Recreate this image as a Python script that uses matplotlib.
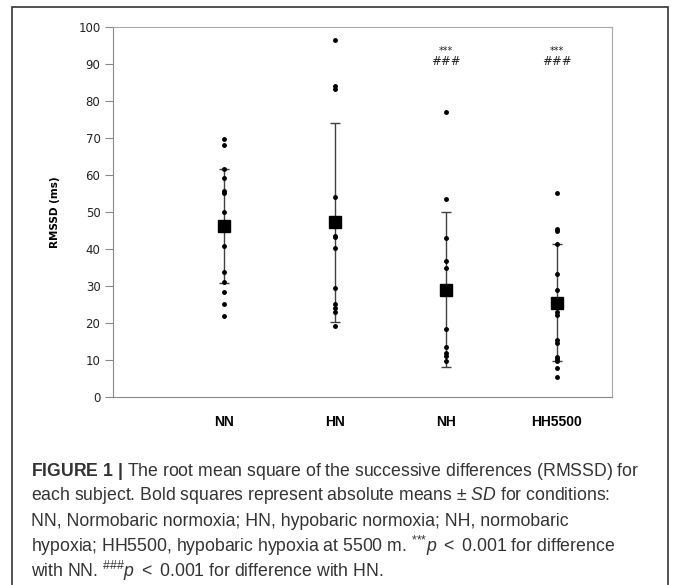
import matplotlib.pyplot as plt
from matplotlib.patches import Rectangle

# valores
conds = ["NN", "HN", "NH", "HH5500"]
nn = [69.8, 68.1, 61.5, 59.3, 55.6, 55.2, 49.9, 40.7, 33.9, 31.0, 28.5, 25.1, 21.8]
hn = [96.6, 84.0, 83.2, 54.1, 43.6, 43.2, 40.4, 29.4, 25.2, 24.1, 22.9, 19.1]
nh = [76.9, 53.6, 43.0, 36.7, 35.0, 18.5, 13.6, 11.8, 11.2, 9.7]
hh = [55.2, 45.4, 44.9, 41.4, 33.3, 29.0, 22.9, 22.2, 15.4, 14.7, 10.8, 10.2, 9.6, 7.9, 5.3]
means = [46.1, 47.2, 29.0, 25.5]
sds = [15.4, 26.9, 21.0, 15.8]
signif = ["", "", "***", "***"]
signif_hn = ["", "", "###", "###"]

plt.rcParams['mathtext.fontset'] = 'custom'
plt.rcParams['mathtext.rm'] = 'Liberation Sans'
plt.rcParams['mathtext.it'] = 'Liberation Sans:italic'
plt.rcParams['mathtext.bf'] = 'Liberation Sans:bold'

fig = plt.figure(figsize=(6.73, 5.85), dpi=100)
W, H = 673, 585

# moldura externa
fig.patches.append(Rectangle((12 / W, -0.1), 656 / W, 1.1 - 7 / H, transform=fig.transFigure,
                             fill=False, edgecolor="#333333", linewidth=1.2))

ax = fig.add_axes([113 / W, 1 - 397 / H, 499 / W, 370 / H])
pontos = [nn, hn, nh, hh]
for i, vals in enumerate(pontos):
    x = i + 1
    ax.errorbar(x, means[i], yerr=sds[i], fmt='none', ecolor="#404040", elinewidth=1,
                capsize=3.5, capthick=1, zorder=2)
    ax.plot([x] * len(vals), vals, 'o', color='black', markersize=2.5, zorder=3)
    ax.plot(x, means[i], 's', color='black', markersize=9, zorder=4)
    if signif[i]:
        ax.text(x, 93.4, signif[i], ha='center', va='center', fontsize=7, color='#222222')
        ax.text(x, 90.6, signif_hn[i], ha='center', va='center', fontsize=8.5,
                color='#222222', style='italic')

ax.set_xlim(0, 4.5)
ax.set_ylim(0, 100)
ax.set_yticks(range(0, 101, 10))
ax.set_xticks(range(1, 5))
ax.set_xticklabels(conds, fontsize=10, fontweight='bold', family=['Liberation Sans Narrow', 'Liberation Sans'])
ax.tick_params(axis='x', length=0, pad=13)
ax.tick_params(axis='y', length=6, width=0.8, color='#888888', labelsize=8.5, labelcolor='#222222', pad=3)
for s in ['left', 'bottom']:
    ax.spines[s].set_color('#888888')
for s in ['top', 'right']:
    ax.spines[s].set_color('#a8a8a8')
ax.set_ylabel("RMSSD (ms)", fontsize=7.5, fontweight='bold', labelpad=13)

caption = [
    r"$\bf{FIGURE\ 1\ |}$ The root mean square of the successive differences (RMSSD) for",
    r"each subject. Bold squares represent absolute means $\pm$ $\it{SD}$ for conditions:",
    r"NN, Normobaric normoxia; HN, hypobaric normoxia; NH, normobaric",
    r"hypoxia; HH5500, hypobaric hypoxia at 5500 m. $^{{*}{*}{*}}\it{p}$ $<$ 0.001 for difference",
    r"with NN. $^{\#\#\#}\it{p}$ $<$ 0.001 for difference with HN.",
]
for k, linha in enumerate(caption):
    fig.text(31 / W, 1 - (471 + k * 25) / H, linha, fontsize=12.7, color='#333333',
             family='Liberation Sans', va='center', ha='left')

plt.savefig("out.png", dpi=100)
